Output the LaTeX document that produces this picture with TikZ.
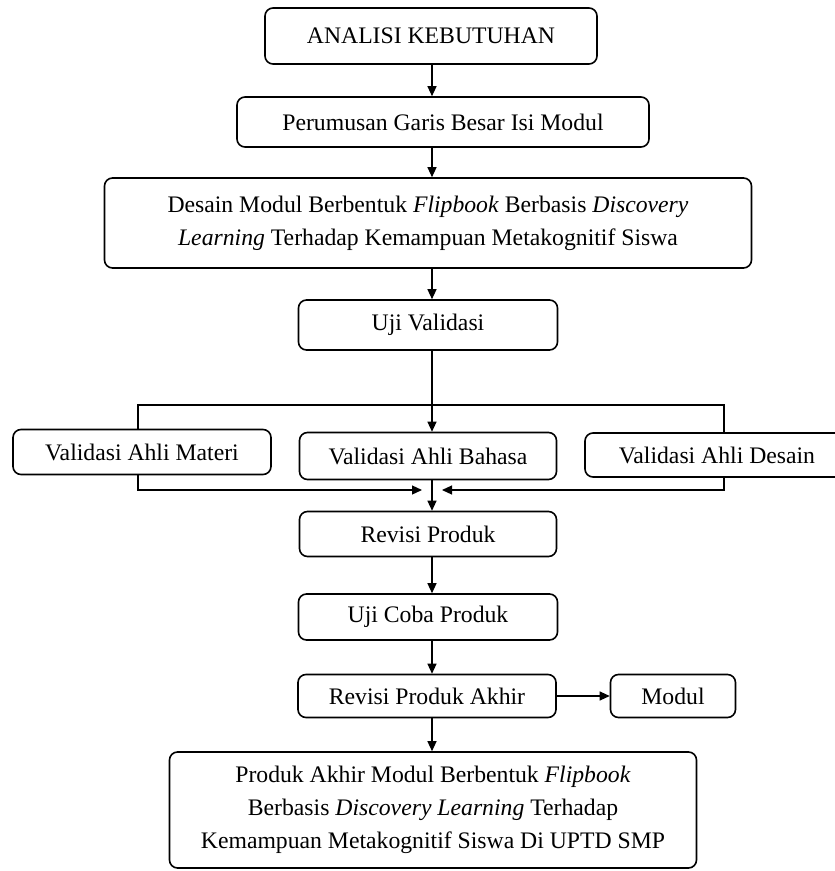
\documentclass[tikz,border=0pt]{standalone}
\usepackage{fontspec}
\setmainfont{Liberation Serif}
\usepackage{tikz}
\usetikzlibrary{calc,arrows.meta,positioning}
\tikzset{
  arr/.style={-{Triangle[length=10pt,width=9pt]},line width=1.2pt,black},
  ln/.style={line width=1.2pt,black},
  box/.style={draw=black,line width=1.6pt,rounded corners=8pt,align=center,inner sep=0pt,
    font=\fontsize{23.7}{33}\selectfont}
}

\begin{document}
\begin{tikzpicture}[x=1pt,y=-1pt]
\useasboundingbox (0,0) rectangle (835,871);
\coordinate (axis) at (432,0);
\coordinate (brk) at (432,405);
\coordinate (join) at (432,490);
% main column
\node[box,minimum width=332,minimum height=56] (analisis) at (431,36) {ANALISI KEBUTUHAN};
\node[box,minimum width=412,minimum height=50] (rumus) at (443,122) {Perumusan Garis Besar Isi Modul};
\node[box,minimum width=647,minimum height=90] (desain) at (428,223)
  {Desain Modul Berbentuk \textit{Flipbook} Berbasis \textit{Discovery}\\
   \textit{Learning} Terhadap Kemampuan Metakognitif Siswa};
\node[box,minimum width=259,minimum height=50] (ujival) at (428,325) {Uji Validasi};
% three validators
\node[box,minimum width=258,minimum height=45] (materi) at (142,452) {Validasi Ahli Materi};
\node[box,minimum width=257,minimum height=47] (bahasa) at (428,456) {Validasi Ahli Bahasa};
\node[box,minimum width=264,minimum height=44] (dsnval) at (717,455) {Validasi Ahli Desain};
% lower column
\node[box,minimum width=257,minimum height=45] (revisi) at (428,534) {Revisi Produk};
\node[box,minimum width=259,minimum height=46] (ujicoba) at (428,617) {Uji Coba Produk};
\node[box,minimum width=258,minimum height=43] (akhir) at (427,696) {Revisi Produk Akhir};
\node[box,minimum width=125,minimum height=43] (modul) at (673,696) {Modul};
\node[box,minimum width=527,minimum height=116] (produk) at (433,810)
  {Produk Akhir Modul Berbentuk \textit{Flipbook}\\
   Berbasis \textit{Discovery Learning} Terhadap\\
   Kemampuan Metakognitif Siswa Di UPTD SMP};
% connectors
\draw[arr] (analisis.south -| axis) -- (rumus.north -| axis);
\draw[arr] (rumus.south -| axis) -- (desain.north -| axis);
\draw[arr] (desain.south -| axis) -- (ujival.north -| axis);
\draw[arr] (ujival.south -| axis) -- (bahasa.north -| axis);
\draw[ln] ([xshift=-4]materi.north) |- (brk) -| ([xshift=7]dsnval.north);
\draw[arr] ([xshift=-4]materi.south) |- ([xshift=-10]join);
\draw[arr] ([xshift=7]dsnval.south) |- ([xshift=10]join);
\draw[arr] (bahasa.south -| axis) -- (revisi.north -| axis);
\draw[arr] (revisi.south -| axis) -- (ujicoba.north -| axis);
\draw[arr] (ujicoba.south -| axis) -- (akhir.north -| axis);
\draw[arr] (akhir.south -| axis) -- (produk.north -| axis);
\draw[arr] (akhir.east) -- (modul.west);
\end{tikzpicture}
\end{document}
